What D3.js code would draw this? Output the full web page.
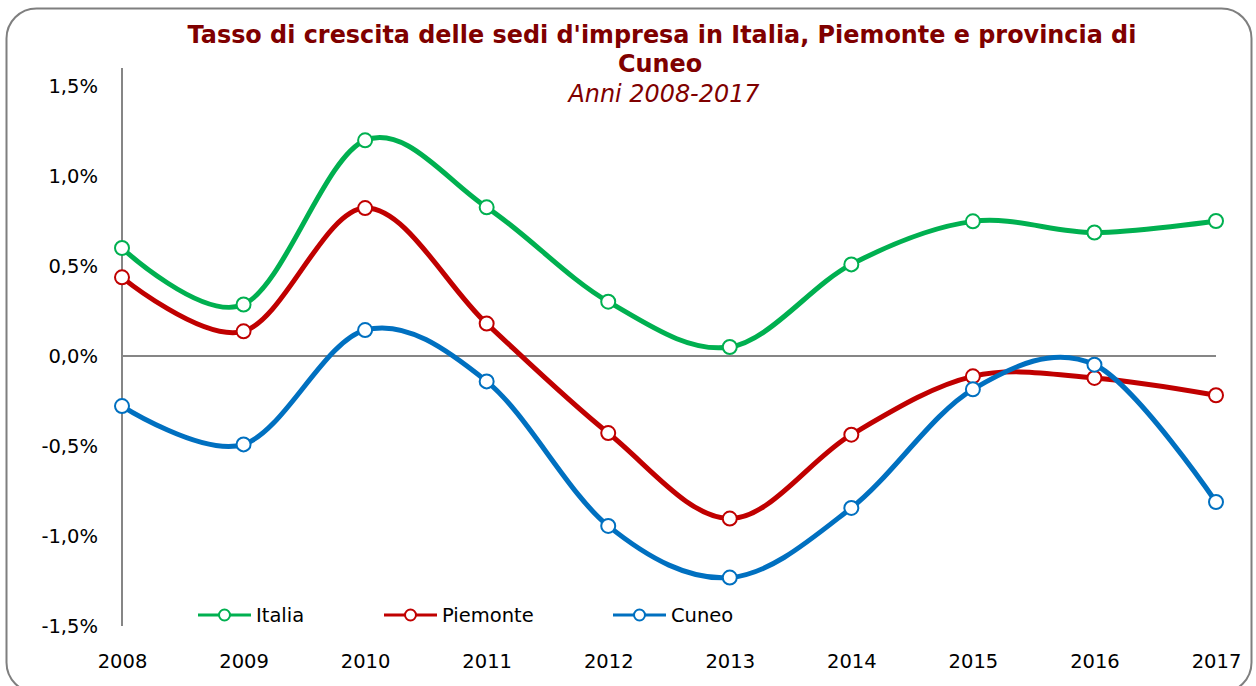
<!DOCTYPE html>
<html>
<head>
<meta charset="utf-8">
<script src="https://cdn.jsdelivr.net/npm/d3@7"></script>
<style>
  body { margin: 0; background: #fff; }
  text { font-family: "DejaVu Sans", Verdana, sans-serif; }
</style>
</head>
<body>
<div id="chart"></div>
<script>
(function() {
var width = 1256,
  height = 686;

// data
var years = ["2008", "2009", "2010", "2011", "2012", "2013", "2014", "2015", "2016", "2017"];
var italia   = [0.60, 0.286, 1.198, 0.826, 0.302, 0.05, 0.509, 0.748, 0.686, 0.75];
var piemonte = [0.437, 0.137, 0.822, 0.180, -0.428, -0.903, -0.437, -0.113, -0.122, -0.218];
var cuneo    = [-0.278, -0.491, 0.144, -0.141, -0.944, -1.231, -0.844, -0.185, -0.048, -0.811];
var seriesNames = ["Italia", "Piemonte", "Cuneo"];
var yTicks = [-1.5, -1.0, -0.5, 0.0, 0.5, 1.0, 1.5];

var colors = { "Italia": "#00b050", "Piemonte": "#c00000", "Cuneo": "#0070c0" };
var series = [
  { name: "Italia", values: italia },
  { name: "Piemonte", values: piemonte },
  { name: "Cuneo", values: cuneo }
];

var svg = d3.select("#chart")
  .append("svg")
  .attr("width", width)
  .attr("height", height)

// frame
svg.append("rect")
  .attr("x", 6.5).attr("y", 8.5)
  .attr("width", 1245).attr("height", 684)
  .attr("rx", 30).attr("ry", 30)
  .attr("fill", "#fff")
  .attr("stroke", "#7f7f7f")
  .attr("stroke-width", 2)

var x = d3.scalePoint().domain(years).range([122, 1216])
var y = d3.scaleLinear().domain([-1.5, 1.5]).range([626, 86])

var itFormat = d3.formatLocale({ decimal: ",", thousands: ".", grouping: [3], currency: ["", "€"], minus: "-" })
var fmt = itFormat.format(".1f")

// title
var title = svg.append("g").attr("fill", "#7f0000").attr("text-anchor", "middle")
title.append("text")
  .attr("x", 662).attr("y", 43)
  .style("font-size", "23.9px").style("font-weight", "bold")
  .text("Tasso di crescita delle sedi d'impresa in Italia, Piemonte e provincia di")
title.append("text")
  .attr("x", 660).attr("y", 72)
  .style("font-size", "23.9px").style("font-weight", "bold")
  .text("Cuneo")
title.append("text")
  .attr("x", 664).attr("y", 102)
  .style("font-size", "23.9px").style("font-style", "italic")
  .text("Anni 2008-2017")

// y axis
var yAxis = svg.append("g")
  .attr("transform", "translate(98,0)")
  .call(d3.axisLeft(y).tickValues(yTicks).tickSize(0).tickPadding(0)
    .tickFormat(function(d) { return fmt(d) + "%" }))
yAxis.select(".domain").remove()
yAxis.selectAll("text").style("font-size", "19.5px").attr("fill", "#000")
  .style("font-family", "'DejaVu Sans', Verdana, sans-serif")

svg.append("line")
  .attr("x1", 122).attr("x2", 122)
  .attr("y1", y(1.6)).attr("y2", y(-1.5))
  .attr("stroke", "#868686").attr("stroke-width", 2)

svg.append("line")
  .attr("x1", x(years[0])).attr("x2", x(years[years.length - 1]))
  .attr("y1", y(0)).attr("y2", y(0))
  .attr("stroke", "#868686").attr("stroke-width", 2)

// x axis
var xAxis = svg.append("g")
  .attr("transform", "translate(0,654)")
  .call(d3.axisBottom(x).tickSize(0).tickPadding(0))
xAxis.select(".domain").remove()
xAxis.selectAll("text").style("font-size", "19.5px").attr("fill", "#000")
  .attr("dy", "0.71em")
  .style("font-family", "'DejaVu Sans', Verdana, sans-serif")

// lines
var line = d3.line()
  .x(function(d, i) { return x(years[i]) })
  .y(function(d) { return y(d) })
  .curve(d3.curveCatmullRom.alpha(0))

series.forEach(function(s) {
  svg.append("path")
    .datum(s.values)
    .attr("d", line)
    .attr("fill", "none")
    .attr("stroke", colors[s.name])
    .attr("stroke-width", 5)
    .attr("stroke-linejoin", "round")
})

series.forEach(function(s) {
  svg.selectAll(".m-" + s.name)
    .data(s.values)
    .enter().append("circle")
    .attr("class", "m-" + s.name)
    .attr("cx", function(d, i) { return x(years[i]) })
    .attr("cy", function(d) { return y(d) })
    .attr("r", 7)
    .attr("fill", "#fff")
    .attr("stroke", colors[s.name])
    .attr("stroke-width", 2)
})

// legend
var legendX = [198, 384, 613]
var legend = svg.selectAll(".legend")
  .data(seriesNames)
  .enter().append("g")
  .attr("class", "legend")
  .attr("transform", function(d, i) { return "translate(" + legendX[i] + ",615)" })

legend.append("line")
  .attr("x1", 0).attr("x2", 53)
  .attr("stroke", function(d) { return colors[d] })
  .attr("stroke-width", 3)
legend.append("circle")
  .attr("cx", 26.5).attr("r", 5.5)
  .attr("fill", "#fff")
  .attr("stroke", function(d) { return colors[d] })
  .attr("stroke-width", 2)
legend.append("text")
  .attr("x", 58).attr("y", 7)
  .style("font-size", "19.5px")
  .text(function(d) { return d })
})();
</script>
</body>
</html>
